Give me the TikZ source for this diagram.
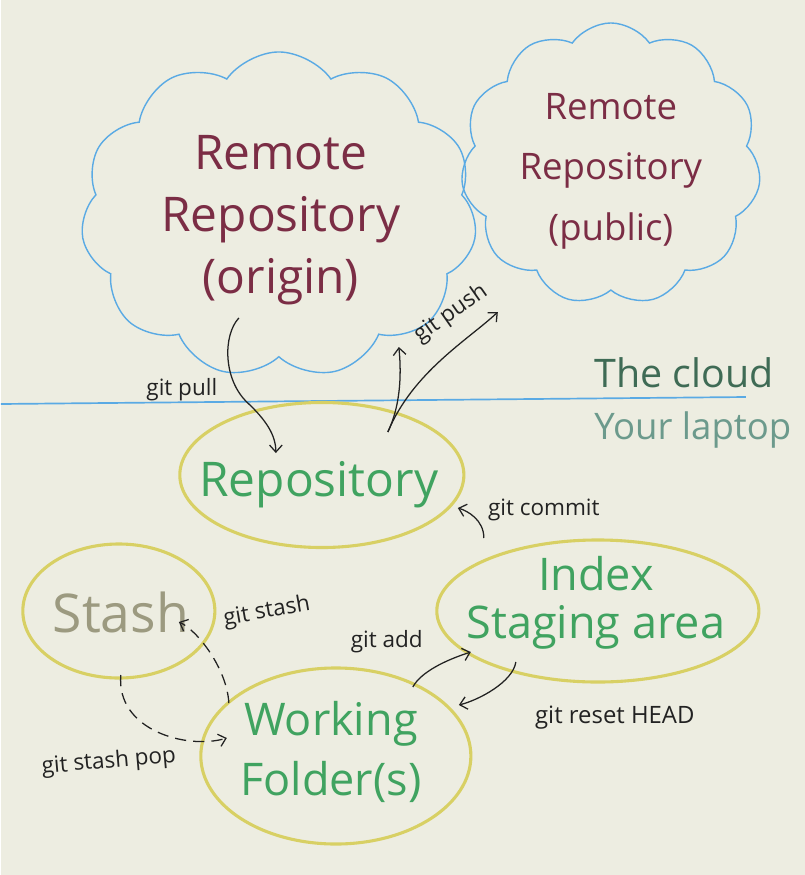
\documentclass[tikz,border=0pt]{standalone}
\usepackage{fontspec}
\setmainfont{Open Sans}
\usetikzlibrary{shapes.geometric,shapes.symbols,arrows.meta,calc}

\definecolor{paper}{RGB}{237,237,225}
\definecolor{skyBlue}{RGB}{90,170,228}
\definecolor{wine}{RGB}{123,45,69}
\definecolor{leafGreen}{RGB}{64,163,96}
\definecolor{blobYellow}{RGB}{216,208,100}
\definecolor{stashGray}{RGB}{156,154,128}
\definecolor{pine}{RGB}{63,107,85}
\definecolor{sage}{RGB}{108,154,140}
\definecolor{ink}{RGB}{34,34,34}

\begin{document}
\begin{tikzpicture}[x=0.025cm, y=-0.025cm,
  cloudShape/.style={cloud, draw=skyBlue, line width=1pt, cloud puffs=11,
    cloud puff arc=110, cloud ignores aspect, inner sep=0pt},
  blobShape/.style={ellipse, draw=blobYellow, line width=2.2pt, inner sep=0pt},
  remoteText/.style={text=wine, align=center},
  localText/.style={text=leafGreen, align=center},
  gitArrow/.style={draw=ink, line width=0.9pt, -{Straight Barb[length=5pt,width=9pt]}},
  gitLabel/.style={text=ink, font=\fontsize{16}{18}\selectfont, inner sep=1pt}
]
\fill[paper] (0,0) rectangle (804,875);

% the cloud side
\node[cloudShape, minimum width=9.9cm, minimum height=8.15cm] (origin) at (278,215) {};
\node[cloudShape, minimum width=7.5cm, minimum height=7.05cm] (public) at (610,164) {};
\node[remoteText, font=\fontsize{34}{44}\selectfont] (originText) at (280,220)
  {Remote\\Repository\\(origin)};
\node[remoteText, font=\fontsize{26}{43}\selectfont] (publicText) at (610,171)
  {Remote\\Repository\\(public)};

\coordinate (divL) at (0,404);
\coordinate (divR) at (745,397);
\draw[skyBlue, line width=1.2pt] (divL) -- (divR);
\node[text=pine, font=\fontsize{28}{30}\selectfont] (cloudLabel) at (683,373) {The cloud};
\node[text=sage, font=\fontsize{26}{30}\selectfont] (laptopLabel) at (692,430) {Your laptop};

% the laptop side
\node[blobShape, minimum width=7.1cm, minimum height=3.625cm] (repo) at (321,475) {};
\node[blobShape, minimum width=8.05cm, minimum height=3.55cm] (index) at (597,611) {};
\node[blobShape, minimum width=4.8cm, minimum height=3.35cm] (stash) at (118,611) {};
\node[blobShape, minimum width=6.75cm, minimum height=4.4cm] (working) at (335,756) {};

\node[localText, font=\fontsize{34}{40}\selectfont] (repoText) at (318,485) {Repository};
\node[localText, font=\fontsize{32}{34}\selectfont] (indexText) at (595,603) {Index\\Staging area};
\node[text=stashGray, font=\fontsize{38}{40}\selectfont] (stashText) at (120,612) {Stash};
\node[localText, font=\fontsize{32}{43}\selectfont] (workingText) at (330,752) {Working\\Folder(s)};

% commands
\draw[gitArrow] ($(origin)+(-40,103)$) .. controls +(-16,17) and +(-25,-23) .. ($(repo)+(-74,-72)$)
  .. controls +(18,17) and +(0,-18) .. ($(repo)+(-46,-22)$);
\node[gitLabel] (pullLabel) at (181,390) {git pull};

\draw[gitArrow] ($(repo)+(66,-43)$) .. controls +(12,-25) and +(3,30) .. ($(origin)+(120,132)$);
\draw[gitArrow] ($(repo)+(66,-43)$) .. controls +(25,-60) and +(-30,28) .. ($(public)+(-113,148)$);
\node[gitLabel, rotate=35] (pushLabel) at (450,314) {git push};

\draw[gitArrow] ($(index)+(-114,-73)$) .. controls +(0,-18) and +(10,3) .. ($(repo)+(136,33)$);
\node[gitLabel] (commitLabel) at (543,510) {git commit};

\draw[gitArrow] ($(working)+(77,-69)$) .. controls +(8,-15) and +(-25,8) .. ($(index)+(-127,41)$);
\node[gitLabel] (addLabel) at (386,642) {git add};

\draw[gitArrow] ($(index)+(-82,51)$) .. controls +(-3,20) and +(20,-5) .. ($(working)+(123,-51)$);
\node[gitLabel, font=\fontsize{17}{19}\selectfont] (resetLabel) at (614,718) {git reset HEAD};

\draw[gitArrow, dash pattern=on 8pt off 5pt] ($(working)+(-107,-53)$) .. controls +(-2,-35) and +(18,8) .. ($(stash)+(60,11)$);
\node[gitLabel, rotate=10] (stashLabel) at (266,612) {git stash};

\draw[gitArrow, dash pattern=on 8pt off 5pt] ($(stash)+(2,64)$) .. controls +(-5,55) and +(-40,12) .. ($(working)+(-109,-18)$);
\node[gitLabel, rotate=5] (popLabel) at (108,762) {git stash pop};

\end{tikzpicture}
\end{document}
